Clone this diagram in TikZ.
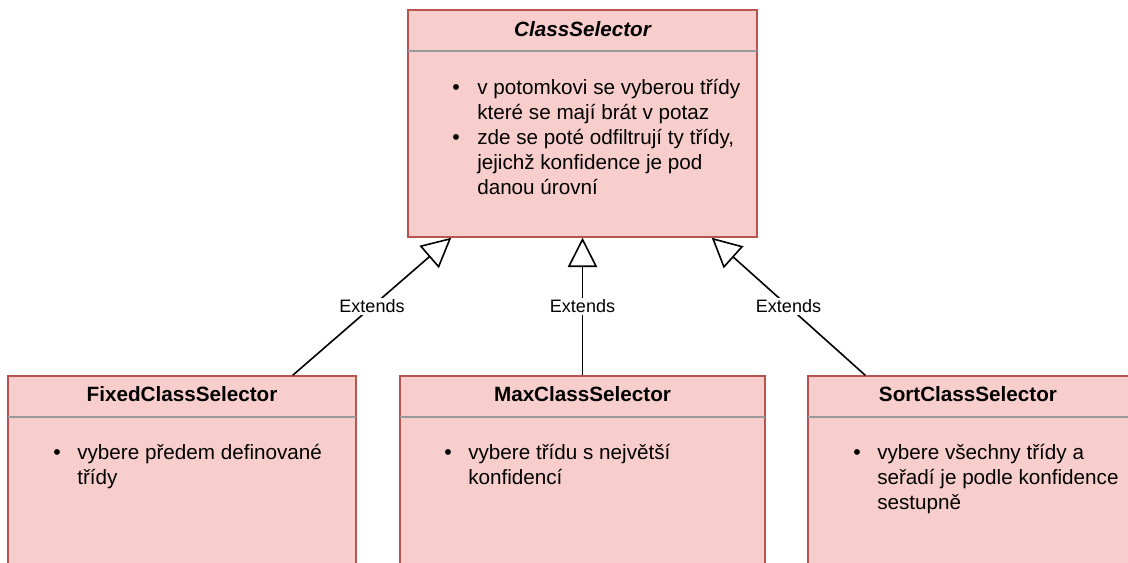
\documentclass[tikz,border=0pt]{standalone}
\usepackage{fontspec}
\setmainfont{Liberation Sans}
\usetikzlibrary{arrows.meta,calc}
\definecolor{boxfill}{HTML}{F8CECC}
\definecolor{boxline}{HTML}{B85450}
\definecolor{sepline}{HTML}{9A9A9A}
\tikzset{
  umlbox/.style={draw=boxline, fill=boxfill, line width=1.1pt, rectangle, inner sep=0pt},
  septhin/.style={draw=sepline, line width=1.2pt},
  titletext/.style={font=\fontsize{15.5}{18}\selectfont\bfseries, anchor=base, inner sep=0pt},
  bodytext/.style={font=\fontsize{15.5}{18}\selectfont, anchor=base west, inner sep=0pt},
  bullettext/.style={font=\fontsize{16}{18}\selectfont, anchor=base, inner sep=0pt},
  extends/.style={line width=1.2pt, -{Triangle[open, length=22pt, width=22pt, fill=white]}},
  extlabel/.style={font=\fontsize{13.5}{16}\selectfont, fill=white, inner sep=1.5pt}
}
\begin{document}
\begin{tikzpicture}[x=0.75pt, y=-0.75pt]
\path[use as bounding box] (0,0) rectangle (1128,562);
\clip (0,0) rectangle (1128,562);
% boxes
\node[umlbox, minimum width=349*0.75pt, minimum height=227*0.75pt] (top) at (582.5,123.5) {};
\node[umlbox, minimum width=348*0.75pt, minimum height=240*0.75pt] (left) at (182,496) {};
\node[umlbox, minimum width=365*0.75pt, minimum height=240*0.75pt] (mid) at (582.5,496) {};
\node[umlbox, minimum width=352*0.75pt, minimum height=240*0.75pt] (right) at (984,496) {};
% separators
\draw[septhin] ($(top.north west)+(1,42)$) -- ($(top.north east)+(-1,42)$);
\draw[septhin] ($(left.north west)+(1,42)$) -- ($(left.north east)+(-1,42)$);
\draw[septhin] ($(mid.north west)+(1,42)$) -- ($(mid.north east)+(-1,42)$);
\draw[septhin] ($(right.north west)+(1,42)$) -- ($(right.north east)+(-1,42)$);
% titles
\node[titletext] (ttop) at (582.5,36) {\itshape ClassSelector};
\node[titletext] (tleft) at (182,401.5) {FixedClassSelector};
\node[titletext] (tmid) at (582.5,401.5) {MaxClassSelector};
\node[titletext] (tright) at (968,401.5) {SortClassSelector};
% top body
\node[bullettext] (b1) at (456,94) {•};
\node[bodytext] (l1) at (477,94) {v potomkovi se vyberou třídy};
\node[bodytext] (l2) at (477,119) {které se mají brát v potaz};
\node[bullettext] (b2) at (456,144) {•};
\node[bodytext] (l3) at (477,144) {zde se poté odfiltrují ty třídy,};
\node[bodytext] (l4) at (477,169) {jejichž konfidence je pod};
\node[bodytext] (l5) at (477,194) {danou úrovní};
% left body
\node[bullettext] (b3) at (57,459) {•};
\node[bodytext] (m1) at (77,459) {vybere předem definované};
\node[bodytext] (m2) at (77,484) {třídy};
% mid body
\node[bullettext] (b4) at (448,459) {•};
\node[bodytext] (n1) at (468,459) {vybere třídu s největší};
\node[bodytext] (n2) at (468,484) {konfidencí};
% right body
\node[bullettext] (b5) at (857,459) {•};
\node[bodytext] (o1) at (877,459) {vybere všechny třídy a};
\node[bodytext] (o2) at (877,484) {seřadí je podle konfidence};
\node[bodytext] (o3) at (877,509) {sestupně};
% connectors
\draw[extends] ([xshift=-64*0.75pt]left.north east) -- node[extlabel] (e1) {Extends} ([xshift=44*0.75pt]top.south west);
\draw[extends] (mid.north) -- node[extlabel] (e2) {Extends} (top.south);
\draw[extends] ([xshift=58*0.75pt]right.north west) -- node[extlabel] (e3) {Extends} ([xshift=-46*0.75pt]top.south east);
\end{tikzpicture}
\end{document}
